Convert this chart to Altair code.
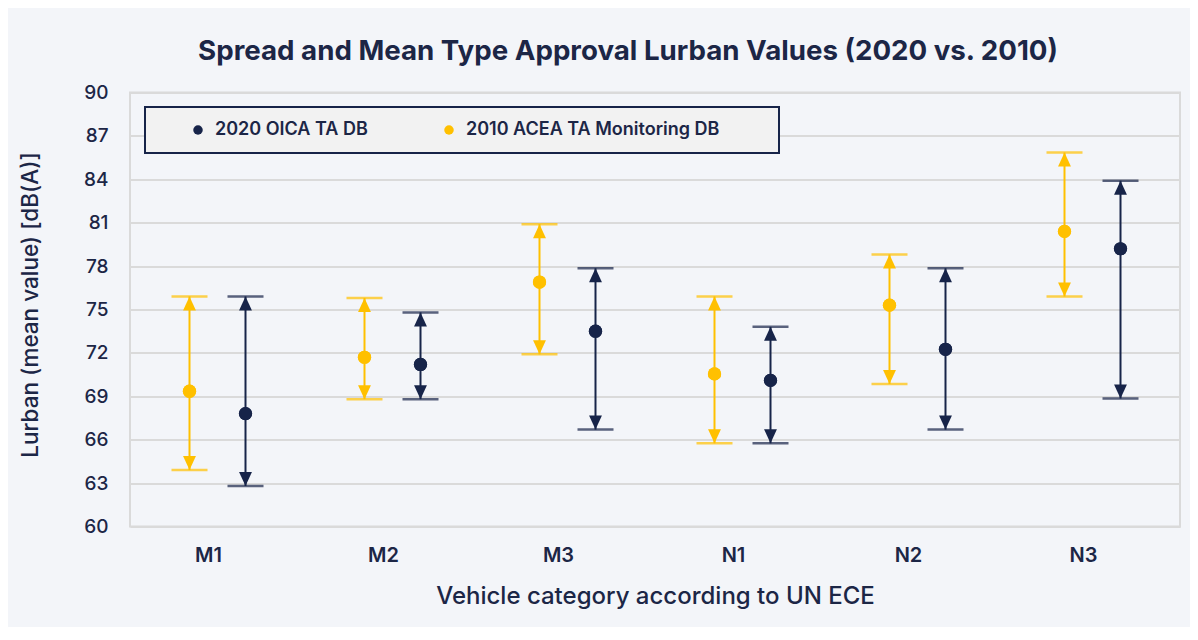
import altair as alt
import pandas as pd

categories = ["M1", "M2", "M3", "N1", "N2", "N3"]
series_2020 = "2020 OICA TA DB"
series_2010 = "2010 ACEA TA Monitoring DB"

mean_2020 = [67.8, 71.2, 73.5, 70.1, 72.25, 79.2]
min_2020 = [62.8, 68.8, 66.7, 65.75, 66.7, 68.85]
max_2020 = [75.9, 74.8, 77.85, 73.8, 77.85, 83.9]

mean_2010 = [69.35, 71.7, 76.9, 70.55, 75.3, 80.4]
min_2010 = [63.9, 68.8, 71.9, 65.75, 69.85, 75.9]
max_2010 = [75.9, 75.8, 80.9, 75.9, 78.8, 85.85]

y_ticks = [60, 63, 66, 69, 72, 75, 78, 81, 84, 87, 90]

NAVY = "#172449"
GOLD = "#FFC000"
TEXT = "#1c2646"
FONT = "Inter"

rows = []
for i, c in enumerate(categories):
    rows.append({"cat": c, "series": series_2010, "mean": mean_2010[i], "lo": min_2010[i], "hi": max_2010[i]})
    rows.append({"cat": c, "series": series_2020, "mean": mean_2020[i], "lo": min_2020[i], "hi": max_2020[i]})
df = pd.DataFrame(rows)

x_enc = alt.X(
    "cat:N",
    sort=categories,
    scale=alt.Scale(paddingInner=0, paddingOuter=0),
    axis=alt.Axis(
        title="Vehicle category according to UN ECE",
        labelAngle=0,
        labelPadding=19,
        labelOffset=-9,
        labelFontSize=20,
        labelFont=FONT,
        labelFontWeight=600,
        labelColor=TEXT,
        ticks=False,
        domain=False,
        titleFontSize=24,
        titleFont=FONT,
        titleFontWeight=500,
        titleColor=TEXT,
        titlePadding=19,
    ),
)
xoff_enc = alt.XOffset(
    "series:N",
    sort=[series_2010, series_2020],
    scale=alt.Scale(paddingInner=0, paddingOuter=0.5625),
)
domain = [series_2020, series_2010]
palette = [NAVY, GOLD]

y_axis = alt.Axis(
    title="Lurban (mean value) [dB(A)]",
    values=y_ticks,
    ticks=False,
    domain=False,
    grid=True,
    gridColor="#dadada",
    gridWidth=2,
    labelPadding=22,
    labelFontSize=19,
    labelFont=FONT,
    labelFontWeight=500,
    labelColor=TEXT,
    titleFontSize=22.5,
    titleFont=FONT,
    titleFontWeight=500,
    titleColor=TEXT,
    titleX=-100,
    titleY=212,
    titleAngle=270,
    titleAlign="center",
    titleBaseline="middle",
)
y_scale = alt.Scale(domain=[60, 90], nice=False, zero=False)

color_enc = alt.Color(
    "series:N",
    scale=alt.Scale(domain=domain, range=palette),
    legend=alt.Legend(
        title=" ",
        titleOrient="right",
        titlePadding=46,
        titleFontSize=2,
        orient="none",
        direction="horizontal",
        legendX=15,
        legendY=14.5,
        padding=14,
        strokeColor=NAVY,
        fillColor="#f2f2f2",
        symbolType="circle",
        symbolSize=90,
        symbolOffset=30,
        symbolStrokeWidth=0,
        columnPadding=42,
        labelOffset=8,
        labelFontSize=18,
        labelFont=FONT,
        labelFontWeight=600,
        labelColor=TEXT,
        labelLimit=400,
        zindex=5,
    ),
)

base = alt.Chart(df)

rules = base.mark_rule(strokeWidth=2).encode(
    x=x_enc,
    xOffset=xoff_enc,
    y=alt.Y("lo:Q", scale=y_scale, axis=y_axis),
    y2="hi:Q",
    color=color_enc,
)

caps_hi = base.mark_tick(size=36, thickness=2.5, orient="horizontal").encode(
    x=x_enc, xOffset=xoff_enc,
    y=alt.Y("hi:Q", scale=y_scale),
    color=color_enc,
)
caps_lo = base.mark_tick(size=36, thickness=2.5, orient="horizontal").encode(
    x=x_enc, xOffset=xoff_enc,
    y=alt.Y("lo:Q", scale=y_scale),
    color=color_enc,
)

arrow_up = base.mark_point(
    shape="M0,0L-0.46,1L0.46,1Z", filled=True, size=784, opacity=1, strokeWidth=0
).encode(
    x=x_enc, xOffset=xoff_enc,
    y=alt.Y("hi:Q", scale=y_scale),
    color=color_enc,
)
arrow_down = base.mark_point(
    shape="M0,0L-0.46,-1L0.46,-1Z", filled=True, size=784, opacity=1, strokeWidth=0
).encode(
    x=x_enc, xOffset=xoff_enc,
    y=alt.Y("lo:Q", scale=y_scale),
    color=color_enc,
)

dots = base.mark_circle(size=175, opacity=1).encode(
    x=x_enc, xOffset=xoff_enc,
    y=alt.Y("mean:Q", scale=y_scale),
    color=color_enc,
)

chart = (
    alt.layer(dots, rules, caps_hi, caps_lo, arrow_up, arrow_down, dots)
    .properties(
        width=1050,
        height=434,
        autosize=alt.AutoSizeParams(type="none"),
        padding={"left": 122, "top": 84.5, "right": 10, "bottom": 100},
        background="#f3f5f9",
        title=alt.TitleParams(
            text="Spread and Mean Type Approval Lurban Values (2020 vs. 2010)",
            fontSize=27.7,
            font=FONT,
            fontWeight=700,
            color=TEXT,
            anchor="middle",
            dx=-27,
            offset=18,
        ),
    )
    .configure_view(stroke="#dadada", strokeWidth=2)
    .configure_legend(strokeWidth=2)
)

chart.save("out.html", embed_options={"renderer": "svg", "actions": False})
